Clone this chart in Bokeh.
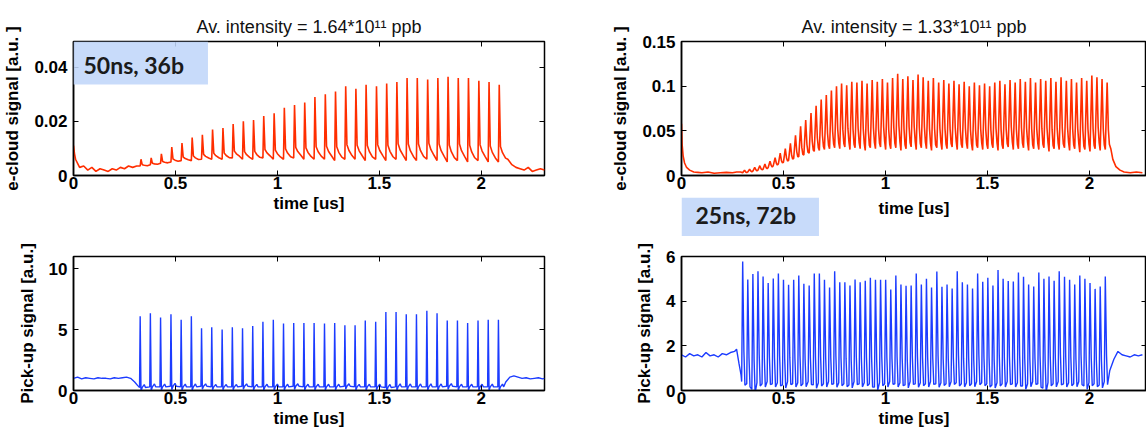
from bokeh.plotting import figure
from bokeh.layouts import row, column
from bokeh.models import (LinearAxis, Range1d, Label, FixedTicker,
                          CustomJSTickFormatter)
from bokeh.embed import file_html
from bokeh.resources import INLINE

# ---------------- data: 50 ns spacing, 36 bunches ----------------
bunch_t_50 = [0.327, 0.377, 0.427, 0.478, 0.528, 0.578, 0.628, 0.678, 0.729, 0.779,
              0.829, 0.879, 0.929, 0.980, 1.030, 1.080, 1.130, 1.180, 1.231, 1.281,
              1.331, 1.381, 1.431, 1.482, 1.532, 1.582, 1.632, 1.682, 1.733, 1.783,
              1.833, 1.883, 1.933, 1.984, 2.034, 2.084]
ec50_peak = [0.006, 0.0065, 0.008, 0.0105, 0.012, 0.014, 0.015, 0.017, 0.0175, 0.019,
             0.020, 0.0205, 0.022, 0.023, 0.025, 0.026, 0.027, 0.029, 0.030, 0.031,
             0.033, 0.032, 0.0335, 0.033, 0.034, 0.0345, 0.036, 0.036, 0.0355, 0.036,
             0.0365, 0.036, 0.036, 0.035, 0.0345, 0.0335]
ec50_trough = [0.0035, 0.004, 0.0045, 0.005, 0.0055, 0.0055, 0.006, 0.006, 0.006, 0.0065,
               0.006, 0.006, 0.0065, 0.006, 0.006, 0.0065, 0.006, 0.006, 0.006, 0.0055,
               0.006, 0.006, 0.0055, 0.006, 0.0055, 0.006, 0.0055, 0.0055, 0.006, 0.0055,
               0.005, 0.0055, 0.005, 0.0055, 0.005, 0.005]
ec50_pre_t = [0.0, 0.005, 0.01, 0.02, 0.03, 0.05, 0.07, 0.09, 0.11, 0.13, 0.15, 0.17,
              0.19, 0.21, 0.23, 0.25, 0.27, 0.29, 0.31]
ec50_pre_v = [0.011, 0.008, 0.006, 0.0045, 0.003, 0.0035, 0.002, 0.003, 0.0015, 0.0025,
              0.002, 0.0015, 0.0025, 0.002, 0.003, 0.0025, 0.0035, 0.003, 0.0035]
ec50_post_t = [2.13, 2.15, 2.17, 2.19, 2.21, 2.23, 2.25, 2.27, 2.29, 2.31]
ec50_post_v = [0.006, 0.004, 0.003, 0.0025, 0.002, 0.003, 0.0015, 0.002, 0.0025, 0.002]

pu50_peak = [6.1, 6.35, 6.0, 6.25, 5.8, 6.1, 5.1, 5.2, 5.0, 5.2,
             5.1, 5.3, 5.65, 5.8, 5.5, 5.55, 5.55, 5.55, 5.5, 5.55,
             5.35, 5.35, 5.75, 5.65, 6.45, 6.45, 6.25, 6.25, 6.55, 6.35,
             5.75, 5.75, 5.55, 5.75, 5.8, 5.8]
pu50_trough = [0.25, 0.3, 0.3, 0.35, 0.3, 0.3, 0.35, 0.3, 0.3, 0.3,
               0.35, 0.3, 0.3, 0.3, 0.3, 0.35, 0.3, 0.3, 0.3, 0.3,
               0.35, 0.3, 0.3, 0.3, 0.25, 0.3, 0.3, 0.3, 0.3, 0.3,
               0.35, 0.3, 0.3, 0.3, 0.3, 0.3]
pu50_pre_t = [0.0, 0.02, 0.04, 0.06, 0.08, 0.10, 0.12, 0.14, 0.16, 0.18, 0.20, 0.22,
              0.24, 0.26, 0.28, 0.30, 0.315]
pu50_pre_v = [1.0, 1.1, 0.95, 1.05, 1.0, 0.95, 1.05, 1.0, 1.0, 0.95, 1.05, 1.0,
              1.05, 1.1, 1.0, 0.7, 0.4]
pu50_post_t = [2.12, 2.14, 2.16, 2.18, 2.20, 2.22, 2.24, 2.26, 2.28, 2.30, 2.31]
pu50_post_v = [0.7, 1.1, 1.2, 1.1, 1.0, 1.05, 0.95, 1.0, 1.05, 0.95, 1.0]

# ---------------- data: 25 ns spacing, 72 bunches ----------------
bunch_t_25 = [0.300, 0.325, 0.350, 0.375, 0.400, 0.425, 0.450, 0.475, 0.500, 0.525,
              0.550, 0.575, 0.600, 0.626, 0.651, 0.676, 0.701, 0.726, 0.751, 0.776,
              0.801, 0.826, 0.851, 0.876, 0.901, 0.926, 0.951, 0.976, 1.001, 1.026,
              1.051, 1.076, 1.101, 1.126, 1.151, 1.176, 1.201, 1.226, 1.252, 1.277,
              1.302, 1.327, 1.352, 1.377, 1.402, 1.427, 1.452, 1.477, 1.502, 1.527,
              1.552, 1.577, 1.602, 1.627, 1.652, 1.677, 1.702, 1.727, 1.752, 1.777,
              1.802, 1.827, 1.852, 1.878, 1.903, 1.928, 1.953, 1.978, 2.003, 2.028,
              2.053, 2.078]
ec25_peak = [0.006, 0.007, 0.009, 0.011, 0.013, 0.016, 0.020, 0.025, 0.030, 0.036,
             0.045, 0.055, 0.062, 0.070, 0.078, 0.085, 0.090, 0.095, 0.100, 0.103,
             0.101, 0.105, 0.104, 0.106, 0.103, 0.107, 0.105, 0.108, 0.104, 0.109,
             0.114, 0.108, 0.111, 0.107, 0.113, 0.110, 0.106, 0.109, 0.104, 0.107,
             0.103, 0.106, 0.102, 0.105, 0.100, 0.104, 0.101, 0.103, 0.100, 0.104,
             0.106, 0.102, 0.107, 0.104, 0.108, 0.105, 0.109, 0.104, 0.108, 0.106,
             0.109, 0.105, 0.110, 0.106, 0.108, 0.104, 0.109, 0.106, 0.112, 0.110,
             0.108, 0.104]
ec25_trough = [0.003, 0.004, 0.005, 0.006, 0.007, 0.009, 0.011, 0.013, 0.015, 0.017,
               0.019, 0.021, 0.023, 0.025, 0.027, 0.028, 0.029, 0.030, 0.031, 0.030,
               0.032, 0.029, 0.031, 0.030, 0.028, 0.031, 0.030, 0.032, 0.029, 0.030,
               0.031, 0.028, 0.030, 0.032, 0.029, 0.031, 0.030, 0.028, 0.031, 0.029,
               0.030, 0.032, 0.029, 0.031, 0.030, 0.028, 0.031, 0.029, 0.030, 0.031,
               0.028, 0.030, 0.032, 0.029, 0.030, 0.031, 0.028, 0.030, 0.029, 0.031,
               0.027, 0.030, 0.029, 0.031, 0.028, 0.030, 0.026, 0.029, 0.027, 0.030,
               0.028, 0.029]
ec25_pre_t = [0.0, 0.003, 0.008, 0.015, 0.025, 0.04, 0.06, 0.08, 0.10, 0.13, 0.16,
              0.19, 0.22, 0.25, 0.27, 0.29]
ec25_pre_v = [0.058, 0.035, 0.022, 0.014, 0.009, 0.006, 0.004, 0.0035, 0.003, 0.004,
              0.0025, 0.003, 0.0035, 0.003, 0.004, 0.004]
ec25_post_t = [2.105, 2.115, 2.13, 2.15, 2.17, 2.20, 2.23, 2.26]
ec25_post_v = [0.03, 0.018, 0.01, 0.006, 0.004, 0.003, 0.004, 0.003]

pu25_peak = [5.78, 4.97, 5.22, 5.34, 5.10, 4.81, 5.02, 5.24, 4.96, 4.73,
             4.96, 5.15, 4.78, 4.70, 5.24, 5.24, 4.96, 4.61, 5.34, 4.85,
             4.85, 4.70, 4.97, 4.85, 4.91, 5.05, 4.96, 4.96, 4.96, 4.52,
             5.15, 4.75, 4.69, 4.70, 5.24, 4.75, 5.00, 4.61, 5.33, 4.64,
             4.75, 4.57, 5.34, 4.85, 4.75, 4.57, 5.24, 4.87, 5.05, 4.70,
             5.39, 5.00, 4.90, 4.88, 5.28, 5.09, 4.75, 4.66, 5.28, 5.00,
             5.10, 4.91, 5.34, 5.09, 4.96, 4.75, 5.15, 5.00, 4.81, 4.55,
             4.66, 5.10]
pu25_trough = [0.4, 0.3, 0.05, 0.35, 0.3, 0.4, 0.3, 0.35, 0.25, 0.4,
               0.3, 0.35, 0.3, 0.4, 0.25, 0.35, 0.3, 0.4, 0.3, 0.35,
               0.3, 0.25, 0.4, 0.3, 0.35, 0.3, 0.15, 0.35, 0.3, 0.4,
               0.3, 0.35, 0.25, 0.4, 0.3, 0.35, 0.3, 0.4, 0.3, 0.35,
               0.3, 0.4, 0.35, 0.3, 0.35, 0.3, 0.4, 0.35, 0.3, 0.25,
               0.35, 0.3, 0.4, 0.3, 0.35, 0.2, 0.3, 0.4, 0.3, 0.1,
               0.35, 0.3, 0.4, 0.3, 0.35, 0.3, 0.4, 0.2, 0.35, 0.3,
               0.25, 0.4]
pu25_pre_t = [0.0, 0.02, 0.04, 0.06, 0.08, 0.10, 0.12, 0.14, 0.16, 0.18, 0.20, 0.22,
              0.24, 0.26, 0.27, 0.282, 0.292]
pu25_pre_v = [1.6, 1.5, 1.65, 1.55, 1.6, 1.5, 1.7, 1.55, 1.6, 1.5, 1.65, 1.6,
              1.7, 1.75, 1.85, 1.2, 0.7]
pu25_post_t = [2.10, 2.12, 2.14, 2.16, 2.18, 2.20, 2.22, 2.24, 2.26]
pu25_post_v = [0.9, 1.4, 1.75, 1.6, 1.55, 1.5, 1.6, 1.55, 1.6]

# pulse shapes (time offset from bunch [us], fraction of peak above trough)
shape_ec50 = [(0.0, 0.0), (0.004, 1.0), (0.010, 0.2), (0.020, 0.12), (0.035, 0.05)]
shape_pu50 = [(-0.003, 0.0), (0.0, 1.0), (0.004, -0.05), (0.010, 0.0), (0.020, 0.04), (0.026, 0.0)]
shape_ec25 = [(0.0, 0.0), (0.009, 1.0), (0.015, 0.3), (0.020, 0.08)]
shape_pu25 = [(-0.005, 0.0), (0.0, 1.0), (0.006, 0.25), (0.011, -0.03)]

RED = "#ff2e00"
BLUE = "#1c3cff"
BOXBLUE = "#c0d6f9"
FONT = "Liberation Sans"
FS = "17px"


def waveform(pre_t, pre_v, bt, trough, peak, shape, post_t, post_v):
    xs, ys = list(pre_t), list(pre_v)
    for tb, tr, pk in zip(bt, trough, peak):
        for dt, f in shape:
            xs.append(tb + dt)
            ys.append(tr + f * (pk - tr))
    xs += list(post_t)
    ys += list(post_v)
    return xs, ys


def make(width, height, xmax, ymax, yticks, ylabel, mbl, mbr, mbt, mbb,
         title=None, xlabel="time [us]"):
    p = figure(width=width, height=height, output_backend="svg", toolbar_location=None,
               x_range=Range1d(0, xmax), y_range=Range1d(0, ymax), title=title,
               min_border_left=mbl, min_border_right=mbr,
               min_border_top=mbt, min_border_bottom=mbb,
               background_fill_color="white", border_fill_color="white")
    p.grid.visible = False
    p.outline_line_color = "black"
    p.outline_line_width = 1.5
    p.outline_line_alpha = 1.0
    if title:
        p.title.align = "center"
        p.title.text_font = FONT
        p.title.text_font_size = "18px"
        p.title.text_font_style = "normal"
        p.title.text_color = "#111111"
        p.title.standoff = 10
    xt = FixedTicker(ticks=[0, 0.5, 1, 1.5, 2])
    yt = FixedTicker(ticks=yticks)
    p.xaxis.ticker = xt
    p.yaxis.ticker = yt
    p.xaxis.formatter = CustomJSTickFormatter(code="return tick.toString();")
    p.yaxis.formatter = CustomJSTickFormatter(code="return tick.toString();")
    if xlabel:
        p.xaxis.axis_label = xlabel
    p.yaxis.axis_label = ylabel
    for ax in (p.xaxis[0], p.yaxis[0]):
        ax.major_tick_in = 5
        ax.major_tick_out = 0
        ax.minor_tick_line_color = None
        ax.axis_line_width = 1.5
        ax.major_tick_line_width = 1
        ax.major_label_text_font = FONT
        ax.major_label_text_font_size = FS
        ax.major_label_text_font_style = "bold"
        ax.major_label_text_color = "black"
        ax.axis_label_text_font = FONT
        ax.axis_label_text_font_size = FS
        ax.axis_label_text_font_style = "bold"
        ax.axis_label_text_color = "black"
    p.xaxis.major_label_standoff = 1
    p.xaxis.axis_label_standoff = 2
    p.yaxis.major_label_standoff = 6
    p.yaxis.axis_label_standoff = 9
    # mirrored ticks on top and right (box on)
    for loc, tk in (("above", xt), ("right", yt)):
        ax = LinearAxis(ticker=tk, formatter=CustomJSTickFormatter(code="return '';"),
                        major_tick_in=5, major_tick_out=0, major_label_standoff=0,
                        major_label_text_font_size="1px", axis_line_color=None,
                        minor_tick_line_color=None)
        p.add_layout(ax, loc)
    return p


def box_label(text, x, y, pads):
    return Label(x=x, y=y, x_units="screen", y_units="screen", text=text,
                 text_font="Lato", text_font_style="bold", text_font_size="23px",
                 text_color="#1b1b1b", text_align="left", text_baseline="top",
                 background_fill_color=BOXBLUE, background_fill_alpha=0.88,
                 padding=pads)


LW, RW = 591, 555

# ---- left column ----
p1 = make(LW, 236, 2.31, 0.0495, [0, 0.02, 0.04], "e-cloud signal [a.u. ]", 73, 47, 41, 61,
          title="Av. intensity = 1.64*10\u00b9\u00b9 ppb")
x, y = waveform(ec50_pre_t, ec50_pre_v, bunch_t_50, ec50_trough, ec50_peak, shape_ec50,
                ec50_post_t, ec50_post_v)
p1.line(x, y, line_color=RED, line_width=1.6)
p1.add_layout(box_label("50ns, 36b", 0, 134,
                        dict(left=10, right=24, top=9, bottom=6)))

p2 = make(LW, 201, 2.31, 11, [0, 5, 10], "Pick-up signal [a.u.]", 73, 47, 20, 47)
x, y = waveform(pu50_pre_t, pu50_pre_v, bunch_t_50, pu50_trough, pu50_peak, shape_pu50,
                pu50_post_t, pu50_post_v)
p2.line(x, y, line_color=BLUE, line_width=1.4)

# ---- right column ----
p3 = make(RW, 197, 2.28, 0.15, [0, 0.05, 0.1, 0.15], "e-cloud signal [a.u. ]", 90, 0, 41, 22,
          title="Av. intensity = 1.33*10\u00b9\u00b9 ppb", xlabel=None)
x, y = waveform(ec25_pre_t, ec25_pre_v, bunch_t_25, ec25_trough, ec25_peak, shape_ec25,
                ec25_post_t, ec25_post_v)
p3.line(x, y, line_color=RED, line_width=1.6)

# strip under the upper right panel: its x-axis title and the "25ns, 72b" tag
strip = figure(width=RW, height=39, output_backend="svg", toolbar_location=None,
               title=None, x_axis_location=None, y_axis_location=None,
               x_range=Range1d(0, 2.28), y_range=Range1d(0, 1),
               min_border_left=90, min_border_right=0, min_border_top=0,
               min_border_bottom=0, outline_line_color=None,
               background_fill_color="white", border_fill_color="white")
strip.grid.visible = False
strip.add_layout(Label(x=232.5, y=28, x_units="screen", y_units="screen", text="time [us]",
                       text_font=FONT, text_font_style="bold", text_font_size=FS,
                       text_color="black", text_align="center", text_baseline="middle"))
strip.add_layout(box_label("25ns, 72b", 0, 39, dict(left=14, right=23, top=3, bottom=8)))

p4 = make(RW, 201, 2.28, 6, [0, 2, 4, 6], "Pick-up signal [a.u.]", 90, 0, 20, 47)
x, y = waveform(pu25_pre_t, pu25_pre_v, bunch_t_25, pu25_trough, pu25_peak, shape_pu25,
                pu25_post_t, pu25_post_v)
p4.line(x, y, line_color=BLUE, line_width=1.4)

layout = row(column(p1, p2), column(p3, strip, p4))
open("out.html", "w").write(file_html(layout, INLINE))
